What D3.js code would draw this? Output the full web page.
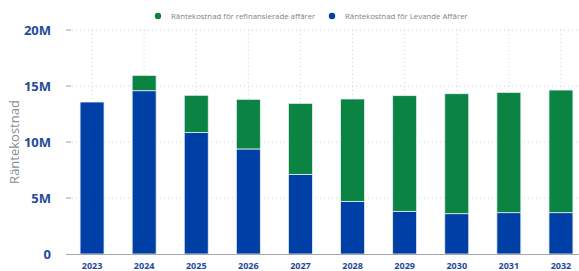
<!DOCTYPE html>
<html><head><meta charset="utf-8">
<script src="https://cdn.jsdelivr.net/npm/d3@7"></script>
<style>body{margin:0;background:#fff;overflow:hidden}svg{display:block}</style>
</head><body><svg id="c" width="579" height="271"></svg>
<script>
const years = ["2023","2024","2025","2026","2027","2028","2029","2030","2031","2032"];
const levande = [13.57,14.58,10.85,9.38,7.11,4.70,3.81,3.60,3.69,3.69];
const refinans = [0,1.37,3.32,4.43,6.34,9.14,10.33,10.71,10.74,10.95];
const yTicks = [0,5,10,15,20];
const tickLabels = ["0","5M","10M","15M","20M"];
const seriesNames = ["Räntekostnad för refinansierade affärer","Räntekostnad för Levande Affärer"];
const colors = {levande:"#003fa6", refinans:"#0b8443"};

const svg = d3.select("#c");
const x = d3.scaleBand().domain(years).range([66,587]).paddingInner(0.54).paddingOuter(0.27);
const y = d3.scaleLinear().domain([0,20]).range([254,30]);

svg.append("g").selectAll("line").data(yTicks.slice(1)).join("line")
  .attr("x1",72).attr("x2",579).attr("y1",d=>y(d)).attr("y2",d=>y(d))
  .attr("stroke","#c9d3e3").attr("stroke-width",1).attr("stroke-dasharray","1,3");
svg.append("g").selectAll("line").data(yTicks.slice(1)).join("line")
  .attr("x1",66).attr("x2",71).attr("y1",d=>y(d)).attr("y2",d=>y(d))
  .attr("stroke","#9aa3ad").attr("stroke-width",1);
svg.append("g").selectAll("line").data(years).join("line")
  .attr("x1",d=>x(d)+x.bandwidth()/2).attr("x2",d=>x(d)+x.bandwidth()/2)
  .attr("y1",30).attr("y2",254)
  .attr("stroke","#c9d3e3").attr("stroke-width",1).attr("stroke-dasharray","1,3");

const g = svg.append("g");
years.forEach((yr,i)=>{
  g.append("rect").attr("x",x(yr)).attr("width",x.bandwidth())
    .attr("y",y(levande[i])).attr("height",y(0)-y(levande[i]))
    .attr("fill",colors.levande).attr("stroke","#e8eef6").attr("stroke-width",0.8);
  if(refinans[i]>0){
    g.append("rect").attr("x",x(yr)).attr("width",x.bandwidth())
      .attr("y",y(levande[i]+refinans[i])).attr("height",y(levande[i])-y(levande[i]+refinans[i]))
      .attr("fill",colors.refinans).attr("stroke","#e8eef6").attr("stroke-width",0.8);
  }
});

svg.append("line").attr("x1",66).attr("x2",579).attr("y1",254.5).attr("y2",254.5)
  .attr("stroke","#a5a9ae").attr("stroke-width",1.2);

svg.append("g").selectAll("text").data(yTicks).join("text")
  .attr("x",51).attr("y",d=>y(d)+5).attr("text-anchor","end")
  .attr("font-family","'Open Sans', sans-serif").attr("font-weight","bold")
  .attr("font-size",13).attr("fill","#1f4a9a").text((d,i)=>tickLabels[i]);
svg.append("g").selectAll("text").data(years).join("text")
  .attr("x",d=>x(d)+x.bandwidth()/2).attr("y",269).attr("text-anchor","middle")
  .attr("font-family","'Open Sans', sans-serif").attr("font-weight","bold")
  .attr("font-size",9).attr("fill","#1f4a9a").text(d=>d);
svg.append("text").attr("transform","translate(19,142) rotate(-90)")
  .attr("text-anchor","middle").attr("font-family","'Open Sans', sans-serif")
  .attr("font-size",13).attr("fill","#8a8f95").text("Räntekostnad");

const leg = [{x:158,c:colors.refinans,t:seriesNames[0]},{x:332,c:colors.levande,t:seriesNames[1]}];
leg.forEach(l=>{
  svg.append("circle").attr("cx",l.x).attr("cy",16).attr("r",3.2).attr("fill",l.c);
  svg.append("text").attr("x",l.x+13).attr("y",18.8).attr("font-family","'Open Sans', sans-serif")
    .attr("font-size",7.8).attr("fill","#7d8288").text(l.t);
});
</script></body></html>
